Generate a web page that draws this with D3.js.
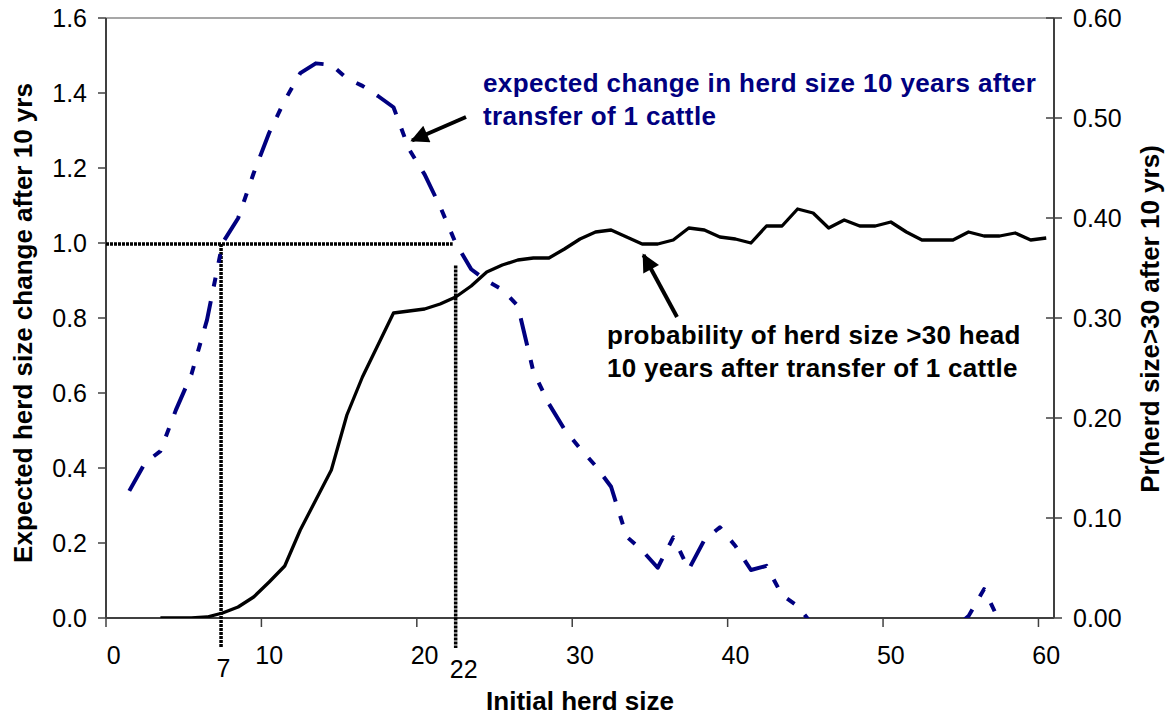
<!DOCTYPE html>
<html>
<head>
<meta charset="utf-8">
<script src="https://cdn.jsdelivr.net/npm/d3@7"></script>
<style>
  body { margin: 0; background: #fff; }
  text { font-family: "Liberation Sans", Arial, sans-serif; }
</style>
</head>
<body>
<div id="chart"></div>
<script>
var width = 1176;
var height = 719;
var margin = { top: 18, right: 122, bottom: 101, left: 106 };

// herd sizes on the category axis (0 is an empty first category)
const axisCategories = [0, 1, 2, 3, 4, 5, 6, 7, 8, 9, 10, 11, 12, 13, 14, 15, 16, 17, 18, 19, 20,
  21, 22, 23, 24, 25, 26, 27, 28, 29, 30, 31, 32, 33, 34, 35, 36, 37, 38, 39, 40,
  41, 42, 43, 44, 45, 46, 47, 48, 49, 50, 51, 52, 53, 54, 55, 56, 57, 58, 59, 60];
const herdSize = axisCategories.slice(1);
const xTickLabels = [0, 10, 20, 30, 40, 50, 60];
const leftTicks = [0, 0.2, 0.4, 0.6, 0.8, 1.0, 1.2, 1.4, 1.6];
const rightTicks = [0, 0.1, 0.2, 0.3, 0.4, 0.5, 0.6];

// expected change in herd size after 10 yrs (left axis); null = below the axis, not drawn
const expectedChange = [0.339, 0.413, 0.445, 0.555, 0.650, 0.795, 1.000, 1.066, 1.186, 1.294,
  1.380, 1.453, 1.479, 1.475, 1.439, 1.419, 1.392, 1.362, 1.250, 1.183,
  1.097, 1.000, 0.930, 0.899, 0.876, 0.832, 0.657, 0.571, 0.503, 0.452,
  0.406, 0.350, 0.217, 0.180, 0.134, 0.215, 0.130, 0.208, 0.242, 0.192,
  0.128, 0.139, 0.061, 0.032, -0.02, null, null, null, null, null,
  null, null, null, -0.03, 0.005, 0.077, -0.01, null, null, null];

// Pr(herd size > 30 after 10 yrs) (right axis)
const probOver30 = [null, null, 0, 0, 0, 0.001, 0.005, 0.011, 0.021, 0.036,
  0.052, 0.088, 0.118, 0.148, 0.203, 0.241, 0.273, 0.305, 0.307, 0.309,
  0.314, 0.321, 0.332, 0.346, 0.353, 0.358, 0.360, 0.360, 0.369, 0.379,
  0.386, 0.388, 0.381, 0.374, 0.374, 0.378, 0.390, 0.388, 0.381, 0.379,
  0.375, 0.392, 0.392, 0.409, 0.405, 0.390, 0.398, 0.392, 0.392, 0.396,
  0.386, 0.378, 0.378, 0.378, 0.386, 0.382, 0.382, 0.385, 0.378, 0.380];

// herd sizes where the expected change equals 1 cattle
const cutoffs = [7, 22];

const plotW = width - margin.left - margin.right;
const plotH = height - margin.top - margin.bottom;

const svg = d3.select("#chart").append("svg")
  .attr("width", width)
  .attr("height", height);

const x = d3.scaleBand()
  .domain(axisCategories)
  .range([margin.left, margin.left + plotW]);
const cx = d => x(d) + x.bandwidth() / 2;

const yL = d3.scaleLinear().domain([0, 1.6]).range([margin.top + plotH, margin.top]);
const yR = d3.scaleLinear().domain([0, 0.6]).range([margin.top + plotH, margin.top]);

svg.append("clipPath").attr("id", "plotClip")
  .append("rect")
  .attr("x", margin.left).attr("y", margin.top)
  .attr("width", plotW).attr("height", plotH);

const axisColor = "#404040";
const x0 = margin.left, x1 = margin.left + plotW, yBottom = margin.top + plotH;

// top frame line
svg.append("line")
  .attr("x1", x0).attr("x2", x1).attr("y1", margin.top).attr("y2", margin.top)
  .attr("stroke", "#8a8a8a").attr("stroke-width", 1.5);

// left axis
svg.append("line").attr("x1", x0).attr("x2", x0).attr("y1", margin.top).attr("y2", yBottom)
  .attr("stroke", axisColor).attr("stroke-width", 2);
svg.append("g").selectAll("line").data(leftTicks).enter().append("line")
  .attr("x1", x0 - 8).attr("x2", x0)
  .attr("y1", d => yL(d)).attr("y2", d => yL(d))
  .attr("stroke", axisColor).attr("stroke-width", 1.5);
svg.append("g").selectAll("text").data(leftTicks).enter().append("text")
  .attr("x", x0 - 19).attr("y", d => yL(d)).attr("dy", "0.35em")
  .attr("text-anchor", "end").style("font-size", "25px")
  .text(d => d3.format(".1f")(d));

// right axis
svg.append("line").attr("x1", x1).attr("x2", x1).attr("y1", margin.top).attr("y2", yBottom)
  .attr("stroke", axisColor).attr("stroke-width", 2);
svg.append("g").selectAll("line").data(rightTicks).enter().append("line")
  .attr("x1", x1 - 8).attr("x2", x1 + 8)
  .attr("y1", d => yR(d)).attr("y2", d => yR(d))
  .attr("stroke", axisColor).attr("stroke-width", 1.5);
svg.append("g").selectAll("text").data(rightTicks).enter().append("text")
  .attr("x", x1 + 19).attr("y", d => yR(d)).attr("dy", "0.35em")
  .attr("text-anchor", "start").style("font-size", "25px")
  .text(d => d3.format(".2f")(d));

// bottom axis: ticks between categories, labels on categories
svg.append("line").attr("x1", x0).attr("x2", x1).attr("y1", yBottom).attr("y2", yBottom)
  .attr("stroke", axisColor).attr("stroke-width", 2);
svg.append("g").selectAll("line").data(xTickLabels).enter().append("line")
  .attr("x1", d => x(d)).attr("x2", d => x(d))
  .attr("y1", yBottom).attr("y2", yBottom + 9)
  .attr("stroke", axisColor).attr("stroke-width", 1.5);
svg.append("g").selectAll("text").data(xTickLabels).enter().append("text")
  .attr("x", d => cx(d)).attr("y", 664)
  .attr("text-anchor", "middle").style("font-size", "25px")
  .text(d => d);

// axis titles
svg.append("text")
  .attr("transform", "translate(32," + 323 + ") rotate(-90)")
  .attr("text-anchor", "middle")
  .style("font-size", "26px").style("font-weight", "bold")
  .text("Expected herd size change after 10 yrs");
svg.append("text")
  .attr("transform", "translate(1159," + 319 + ") rotate(-90)")
  .attr("text-anchor", "middle")
  .style("font-size", "26px").style("font-weight", "bold")
  .text("Pr(herd size>30 after 10 yrs)");
svg.append("text")
  .attr("x", (x0 + x1) / 2).attr("y", 710)
  .attr("text-anchor", "middle")
  .style("font-size", "26px").style("font-weight", "bold")
  .text("Initial herd size");

// reference dotted lines
const dotted = svg.append("g")
  .attr("stroke", "#000").attr("stroke-width", 3.5)
  .attr("stroke-dasharray", "3,1").attr("fill", "none");
dotted.append("line")
  .attr("x1", x0).attr("x2", cx(cutoffs[1]) - 3)
  .attr("y1", yL(1.0) + 1).attr("y2", yL(1.0) + 1);
dotted.append("line")
  .attr("x1", cx(cutoffs[0]) - 1.5).attr("x2", cx(cutoffs[0]) - 1.5)
  .attr("y1", yL(1.0) + 1).attr("y2", yBottom + 30);
dotted.append("line")
  .attr("x1", cx(cutoffs[1])).attr("x2", cx(cutoffs[1]))
  .attr("y1", yL(0.94)).attr("y2", yBottom + 30);
svg.append("text").attr("x", cx(cutoffs[0]) + 1).attr("y", 677)
  .attr("text-anchor", "middle").style("font-size", "25px").text(cutoffs[0]);
svg.append("text").attr("x", cx(cutoffs[1]) + 8).attr("y", 678)
  .attr("text-anchor", "middle").style("font-size", "25px").text(cutoffs[1]);

// series
const plot = svg.append("g").attr("clip-path", "url(#plotClip)");

const lineL = d3.line()
  .defined((d, i) => expectedChange[i] !== null)
  .x(d => cx(d))
  .y((d, i) => yL(expectedChange[i]));
plot.append("path")
  .datum(herdSize)
  .attr("d", lineL)
  .attr("fill", "none")
  .attr("stroke", "#000080")
  .attr("stroke-width", 4)
  .attr("stroke-linejoin", "round")
  .attr("stroke-dasharray", "28,15,9,15,9,15");

const lineR = d3.line()
  .defined((d, i) => probOver30[i] !== null)
  .x(d => cx(d))
  .y((d, i) => yR(probOver30[i]));
plot.append("path")
  .datum(herdSize)
  .attr("d", lineR)
  .attr("fill", "none")
  .attr("stroke", "#000")
  .attr("stroke-width", 3.3)
  .attr("stroke-linejoin", "round");

// annotations
svg.append("defs").append("marker")
  .attr("id", "arrowHead")
  .attr("viewBox", "0 0 10 10")
  .attr("refX", 9).attr("refY", 5)
  .attr("markerWidth", 5).attr("markerHeight", 4.5)
  .attr("markerUnits", "strokeWidth")
  .attr("orient", "auto")
  .append("path").attr("d", "M0,0 L10,5 L0,10 z").attr("fill", "#000");

svg.append("line")
  .attr("x1", 466).attr("y1", 117).attr("x2", 412).attr("y2", 140.5)
  .attr("stroke", "#000").attr("stroke-width", 4)
  .attr("marker-end", "url(#arrowHead)");
svg.append("line")
  .attr("x1", 677).attr("y1", 317).attr("x2", 643.5).attr("y2", 255)
  .attr("stroke", "#000").attr("stroke-width", 4)
  .attr("marker-end", "url(#arrowHead)");

const blueNote = svg.append("text")
  .attr("fill", "#000080").style("font-size", "26px").style("font-weight", "bold")
  .style("letter-spacing", "0.4px");
blueNote.append("tspan").attr("x", 483).attr("y", 92).text("expected change in herd size 10 years after");
blueNote.append("tspan").attr("x", 483).attr("y", 125).text("transfer of 1 cattle");

const blackNote = svg.append("text")
  .attr("fill", "#000").style("font-size", "26px").style("font-weight", "bold")
  .style("letter-spacing", "0.3px");
blackNote.append("tspan").attr("x", 607).attr("y", 344).text("probability of herd size >30 head");
blackNote.append("tspan").attr("x", 607).attr("y", 377).text("10 years after transfer of 1 cattle");
</script>
</body>
</html>
